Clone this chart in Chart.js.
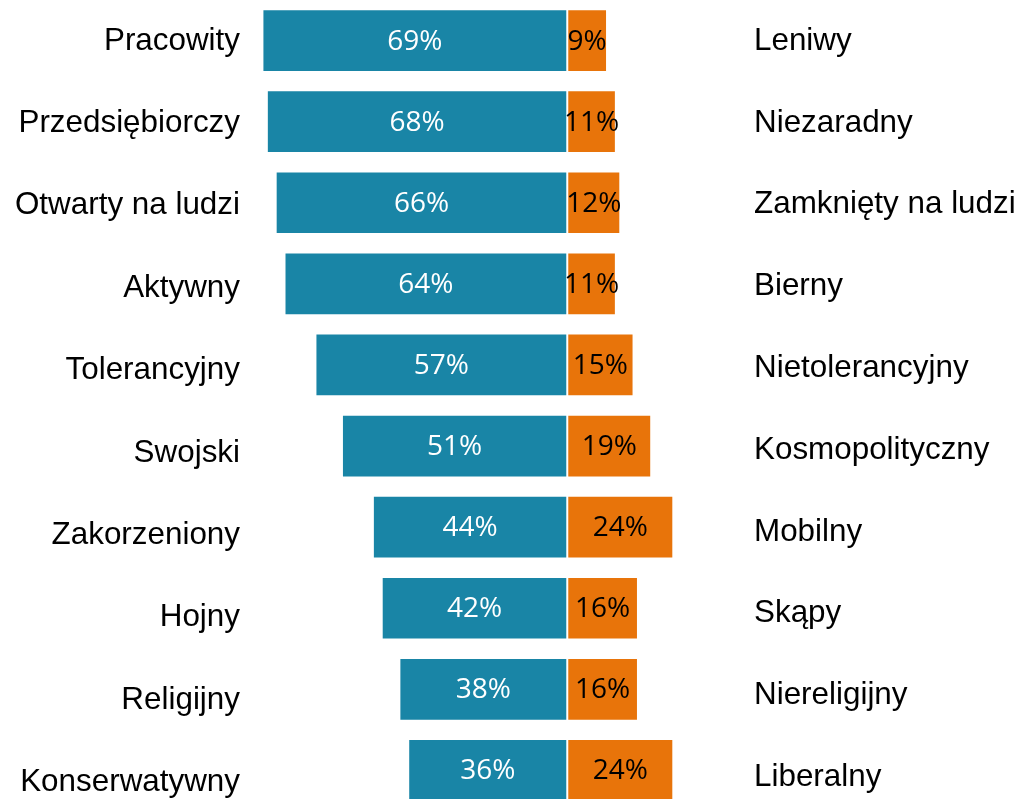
<!DOCTYPE html>
<html>
<head>
<meta charset="utf-8">
<script src="https://cdn.jsdelivr.net/npm/chart.js@4/dist/chart.umd.min.js"></script>
<style>
  html, body { margin: 0; padding: 0; background: #ffffff; overflow: hidden; }
  #wrap { position: relative; width: 1023px; height: 811px; }
</style>
</head>
<body>
<div id="wrap"><canvas id="c"></canvas></div>
<script>
const leftLabels = ['Pracowity', 'Przedsiębiorczy', 'Otwarty na ludzi', 'Aktywny', 'Tolerancyjny', 'Swojski', 'Zakorzeniony', 'Hojny', 'Religijny', 'Konserwatywny'];
const rightLabels = ['Leniwy', 'Niezaradny', 'Zamknięty na ludzi', 'Bierny', 'Nietolerancyjny', 'Kosmopolityczny', 'Mobilny', 'Skąpy', 'Niereligijny', 'Liberalny'];
const leftValues = [69, 68, 66, 64, 57, 51, 44, 42, 38, 36];
const rightValues = [9, 11, 12, 11, 15, 19, 24, 16, 16, 24];

const BLUE = '#1985A6';
const ORANGE = '#E8740A';

const valueLabels = {
  id: 'valueLabels',
  afterDatasetsDraw(chart) {
    const ctx = chart.ctx;
    ctx.save();
    ctx.font = '28px "Open Sans"';
    ctx.textAlign = 'center';
    ctx.textBaseline = 'middle';
    chart.data.datasets.forEach((ds, di) => {
      const meta = chart.getDatasetMeta(di);
      ctx.fillStyle = di === 0 ? '#ffffff' : '#000000';
      meta.data.forEach((el, i) => {
        const v = Math.abs(ds.data[i]);
        ctx.fillText(v + '%', (el.x + el.base) / 2, el.y + 1);
      });
    });
    ctx.restore();
  }
};

const labelAxis = (labels, pos, min, max, width, pad) => ({
  type: 'linear',
  position: pos,
  reverse: true,
  offset: false,
  bounds: 'data',
  min: min,
  max: max,
  grid: { display: false, drawTicks: false, offset: false },
  border: { display: false },
  afterBuildTicks: (s) => { s.ticks = labels.map((_, i) => ({ value: i })); s.min = min; s.max = max; },
  afterFit: (s) => { s.width = width; s.paddingTop = 0; s.paddingBottom = 0; },
  ticks: {
    autoSkip: false,
    padding: pad,
    color: '#000000',
    font: { family: '"Liberation Sans", Arial, sans-serif', size: 31.4 },
    callback: (v) => labels[v]
  }
});

new Chart(document.getElementById('c'), {
  type: 'bar',
  data: {
    labels: leftLabels,
    datasets: [
      { data: leftValues.map(v => -v), backgroundColor: BLUE, borderColor: 'rgba(255,255,255,0.65)', borderWidth: 1, borderSkipped: false, yAxisID: 'y' },
      { data: rightValues, backgroundColor: ORANGE, borderColor: 'rgba(255,255,255,0.65)', borderWidth: 1, borderSkipped: false, yAxisID: 'y' }
    ]
  },
  options: {
    indexAxis: 'y',
    responsive: true,
    maintainAspectRatio: false,
    animation: false,
    layout: { padding: 0 },
    plugins: { legend: { display: false }, tooltip: { enabled: false } },
    datasets: { bar: { categoryPercentage: 1, barPercentage: 0.773 } },
    scales: {
      x: { display: false, stacked: true, min: -70, max: 40 },
      y: { display: false, stacked: true },
      yl: labelAxis(leftLabels, 'left', -0.4976, 9.345, 258, 18),
      yr: labelAxis(rightLabels, 'right', -0.5037, 9.411, 279, 10)
    }
  },
  plugins: [valueLabels]
});
</script>
</body>
</html>
